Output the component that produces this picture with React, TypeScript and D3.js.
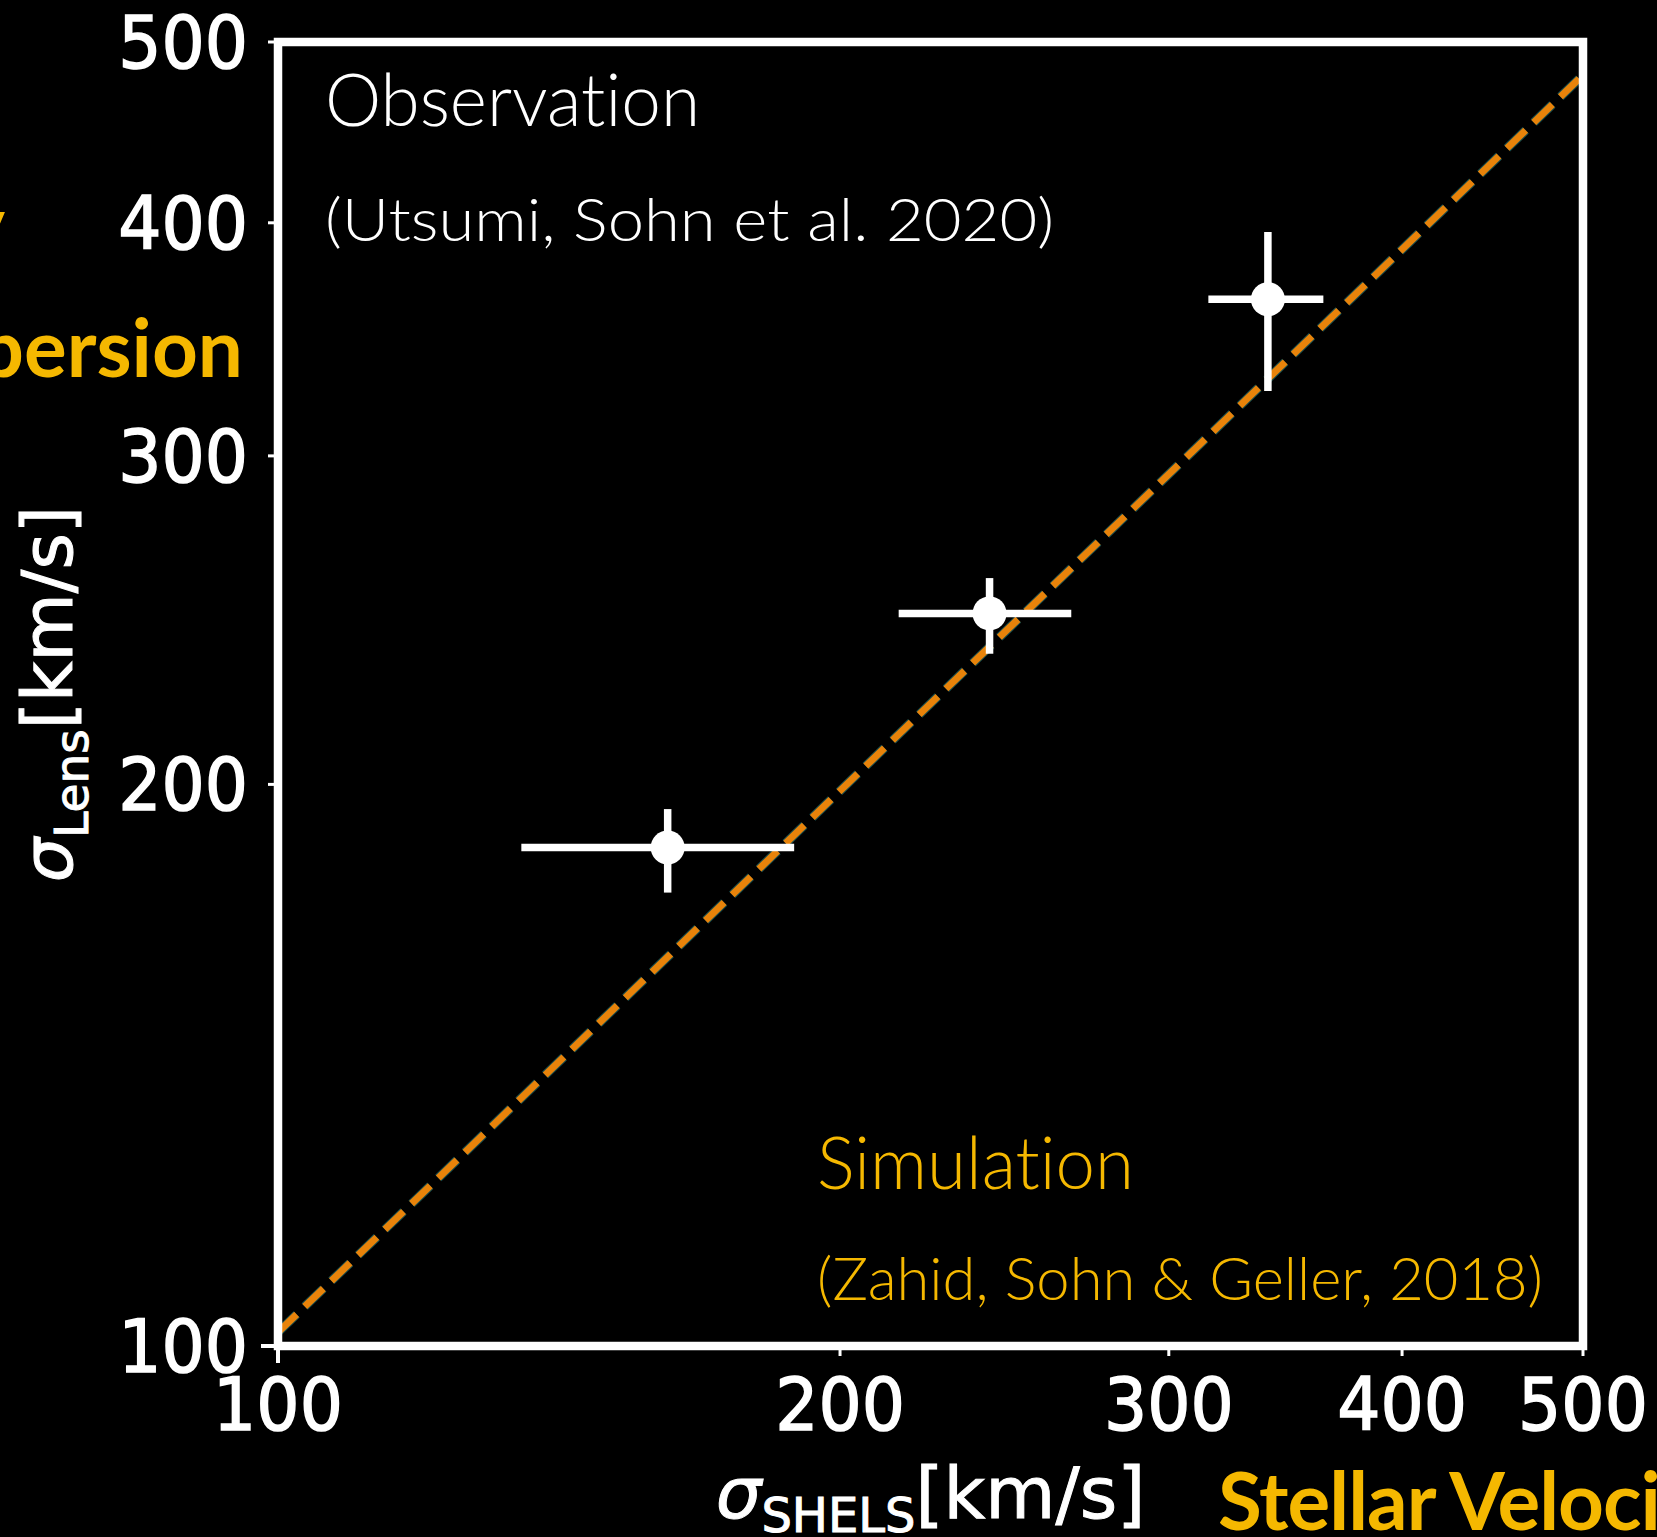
import React, { useEffect } from 'react';
import * as d3 from 'd3';

const W = 1657;
const H = 1537;

// Axis ticks (log scale, 100–500 km/s on both axes)
const tickValues = [100, 200, 300, 400, 500];
const majorTicks = [100];

// Observed lensing vs. SHELS stellar velocity dispersion (with error ranges)
const obsSigmaShels = [161.7, 240.5, 339];
const obsSigmaShelsLo = [135, 215, 315];
const obsSigmaShelsHi = [189, 266, 363];
const obsSigmaLens = [185, 247, 364];
const obsSigmaLensLo = [175, 235, 325];
const obsSigmaLensHi = [194, 258, 395.5];

// Simulated relation
const simSigmaShels = [100, 500];
const simSigmaLens = [101.7, 480];

const PLOT = { left: 278, right: 1583, top: 42, bottom: 1346 };
const ORANGE = '#F5B800';
const DASH = '#E8830A';
const MPL_FONT = '"DejaVu Sans", sans-serif';
const SLIDE_FONT = 'Lato, "Open Sans", sans-serif';
const noLig = { fontVariantLigatures: 'none', fontFeatureSettings: '"liga" 0, "clig" 0' } as React.CSSProperties;

export default function App() {
  useEffect(() => {
    document.body.style.background = '#000';
    document.body.style.margin = '0';
  }, []);

  const x = d3.scaleLog().domain([100, 500]).range([PLOT.left, PLOT.right]);
  const y = d3.scaleLog().domain([100, 500]).range([PLOT.bottom, PLOT.top]);

  const simPoints: [number, number][] = simSigmaShels.map((v, i) => [v, simSigmaLens[i]]);
  const simLine = d3
    .line<[number, number]>()
    .x((d) => x(d[0]))
    .y((d) => y(d[1]))(simPoints) as string;

  const lw = 7;
  const dashArray = `${3.7 * lw} ${1.6 * lw}`;

  return (
    <svg
      width={W}
      height={H}
      viewBox={`0 0 ${W} ${H}`}
      style={{ position: 'absolute', left: 0, top: 0, background: '#000' }}
    >
      <rect x={0} y={0} width={W} height={H} fill="#000" />
      <defs>
        <clipPath id="plot-area">
          <rect
            x={PLOT.left}
            y={PLOT.top}
            width={PLOT.right - PLOT.left}
            height={PLOT.bottom - PLOT.top}
          />
        </clipPath>
      </defs>

      {/* simulation relation */}
      <g clipPath="url(#plot-area)">
        <path d={simLine} fill="none" stroke="#2a8a8a" strokeOpacity={0.55} strokeWidth={lw + 2} strokeDasharray={dashArray} />
        <path d={simLine} fill="none" stroke={DASH} strokeWidth={lw} strokeDasharray={dashArray} />
      </g>

      {/* observations with error bars */}
      <g>
        {obsSigmaShels.map((v, i) => (
          <g key={i}>
            <line
              x1={x(obsSigmaShelsLo[i])}
              x2={x(obsSigmaShelsHi[i])}
              y1={y(obsSigmaLens[i])}
              y2={y(obsSigmaLens[i])}
              stroke="#fff"
              strokeWidth={7.5}
            />
            <line
              x1={x(v)}
              x2={x(v)}
              y1={y(obsSigmaLensLo[i])}
              y2={y(obsSigmaLensHi[i])}
              stroke="#fff"
              strokeWidth={7.5}
            />
            <circle cx={x(v)} cy={y(obsSigmaLens[i])} r={17} fill="#fff" />
          </g>
        ))}
      </g>

      {/* frame */}
      <rect
        x={PLOT.left}
        y={PLOT.top}
        width={PLOT.right - PLOT.left}
        height={PLOT.bottom - PLOT.top}
        fill="none"
        stroke="#fff"
        strokeWidth={8.5}
      />

      {/* x ticks */}
      {tickValues.map((v) => {
        const major = majorTicks.includes(v);
        return (
          <g key={`xt${v}`}>
            <line
              x1={x(v)}
              x2={x(v)}
              y1={PLOT.bottom}
              y2={PLOT.bottom + (major ? 17 : 10)}
              stroke="#fff"
              strokeWidth={major ? 4 : 3}
            />
            <text
              transform={`translate(${x(v)},1430) scale(1,1.08)`}
              textAnchor="middle"
              fontFamily={MPL_FONT}
              fontSize={68}
              fill="#fff"
              stroke="#fff"
              strokeWidth={1.4}
            >
              {v}
            </text>
          </g>
        );
      })}

      {/* y ticks */}
      {tickValues.map((v) => {
        const major = majorTicks.includes(v);
        return (
          <g key={`yt${v}`}>
            <line
              x1={PLOT.left - (major ? 17 : 10)}
              x2={PLOT.left}
              y1={y(v)}
              y2={y(v)}
              stroke="#fff"
              strokeWidth={major ? 4 : 3}
            />
            <text
              transform={`translate(248,${y(v) + 26}) scale(1,1.08)`}
              textAnchor="end"
              fontFamily={MPL_FONT}
              fontSize={68}
              fill="#fff"
              stroke="#fff"
              strokeWidth={1.4}
            >
              {v}
            </text>
          </g>
        );
      })}

      {/* axis titles */}
      <text
        transform={`translate(72,${(PLOT.top + PLOT.bottom) / 2}) rotate(-90)`}
        textAnchor="middle"
        fontFamily={MPL_FONT}
        fontSize={70}
        fill="#fff"
        stroke="#fff"
        strokeWidth={1}
      >
        <tspan fontStyle="italic">σ</tspan>
        <tspan fontSize={47} dy={16}>Lens</tspan>
        <tspan dy={-16}>[km/s]</tspan>
      </text>
      <text
        x={(PLOT.left + PLOT.right) / 2}
        y={1518}
        textAnchor="middle"
        fontFamily={MPL_FONT}
        fontSize={72}
        fill="#fff"
        stroke="#fff"
        strokeWidth={1}
      >
        <tspan fontStyle="italic">σ</tspan>
        <tspan fontSize={48} dy={14}>SHELS</tspan>
        <tspan dy={-14}>[km/s]</tspan>
      </text>

      {/* annotations */}
      <text x={325} y={126} style={noLig} fontFamily={SLIDE_FONT} fontWeight={300} fontSize={72} fill="#fff" textLength={375} lengthAdjust="spacingAndGlyphs">
        Observation
      </text>
      <text x={325} y={241} style={noLig} fontFamily={SLIDE_FONT} fontWeight={300} fontSize={60} fill="#fff" textLength={729} lengthAdjust="spacingAndGlyphs">
        (Utsumi, Sohn et al. 2020)
      </text>
      <text x={817} y={1189} style={noLig} fontFamily={SLIDE_FONT} fontWeight={300} fontSize={72} fill={ORANGE} textLength={317} lengthAdjust="spacingAndGlyphs">
        Simulation
      </text>
      <text x={817} y={1300} style={noLig} fontFamily={SLIDE_FONT} fontWeight={300} fontSize={60} fill={ORANGE} textLength={726} lengthAdjust="spacingAndGlyphs">
        (Zahid, Sohn &amp; Geller, 2018)
      </text>

      {/* quantity names */}
      <text x={5} y={253} style={noLig} textAnchor="end" fontFamily={SLIDE_FONT} fontWeight={700} fontSize={80} fill={ORANGE}>
        Lensing Velocity
      </text>
      <text x={243} y={377} style={noLig} textAnchor="end" fontFamily={SLIDE_FONT} fontWeight={700} fontSize={80} fill={ORANGE}>
        Dispersion
      </text>
      <text x={1218} y={1530} style={noLig} fontFamily={SLIDE_FONT} fontWeight={700} fontSize={80} letterSpacing={-1} fill={ORANGE}>
        Stellar Velocity Dispersion
      </text>
    </svg>
  );
}
